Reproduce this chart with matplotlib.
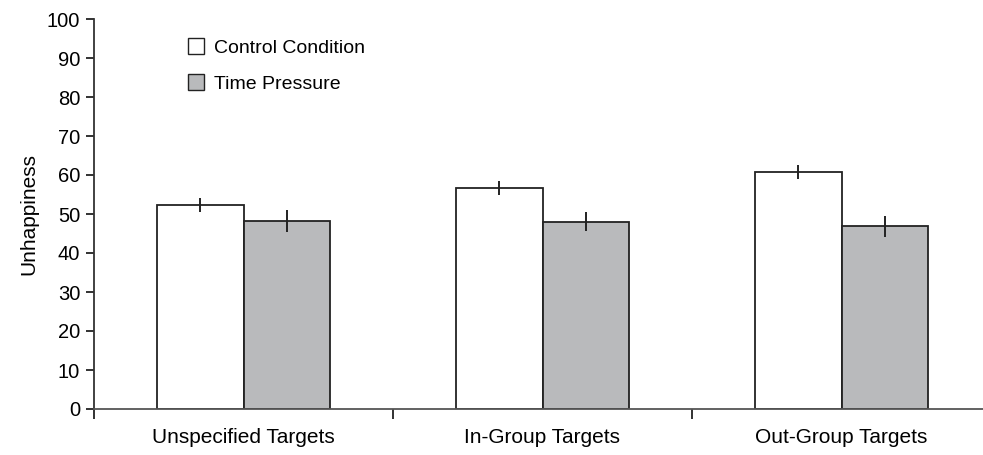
import matplotlib
matplotlib.use("Agg")
import matplotlib.pyplot as plt
import numpy as np

# ---------- Dados ----------
categorias = ["Unspecified Targets", "In-Group Targets", "Out-Group Targets"]
controle = [52.3, 56.7, 60.8]
controle_erro = [1.7, 1.7, 1.7]
pressao = [48.2, 48.0, 46.9]
pressao_erro = [2.8, 2.4, 2.7]
series = ["Control Condition", "Time Pressure"]

plt.rcParams['font.family'] = ['Liberation Sans', 'DejaVu Sans']

fig = plt.figure(figsize=(9.83, 4.55), dpi=100)
ax = fig.add_axes([94 / 983, 46 / 455, (991 - 94) / 983, 390 / 455])

x = np.arange(len(categorias))
w = 0.288
ax.bar(x - w / 2, controle, w, color="white", edgecolor="#222222", linewidth=1.3,
       yerr=controle_erro, error_kw=dict(ecolor="#222222", elinewidth=1.4, capsize=0),
       label=series[0])
ax.bar(x + w / 2, pressao, w, color="#b9babc", edgecolor="#222222", linewidth=1.3,
       yerr=pressao_erro, error_kw=dict(ecolor="#222222", elinewidth=1.4, capsize=0),
       label=series[1])

ax.set_xlim(-0.5, 2.5)
ax.set_ylim(0, 100)
ax.set_yticks(np.arange(0, 101, 10))
ax.set_xticks([-0.5, 0.5, 1.5, 2.5])
ax.set_xticklabels([])
ax.set_xticks(x, minor=True)
ax.set_xticklabels(categorias, minor=True, fontsize=15)
ax.tick_params(axis="x", which="minor", length=0, pad=14)
ax.tick_params(axis="x", which="major", length=7, width=1.3, color="#222222")
ax.tick_params(axis="y", length=6, width=1.3, color="#222222", labelsize=14.5, pad=4)

for s in ["top", "right"]:
    ax.spines[s].set_visible(False)
ax.spines["left"].set_color("#333333")
ax.spines["left"].set_linewidth(1.3)
ax.spines["bottom"].set_color("#555555")
ax.spines["bottom"].set_linewidth(1.3)

ax.set_ylabel("Unhappiness", fontsize=15, labelpad=6)

leg = ax.legend(loc="upper left", bbox_to_anchor=(0.085, 0.995), frameon=False,
                fontsize=14, handlelength=0.85, handleheight=0.85,
                handletextpad=0.5, labelspacing=0.9)
for h in leg.legend_handles:
    h.set_linewidth(1.0)

fig.savefig("out.png", dpi=100)
